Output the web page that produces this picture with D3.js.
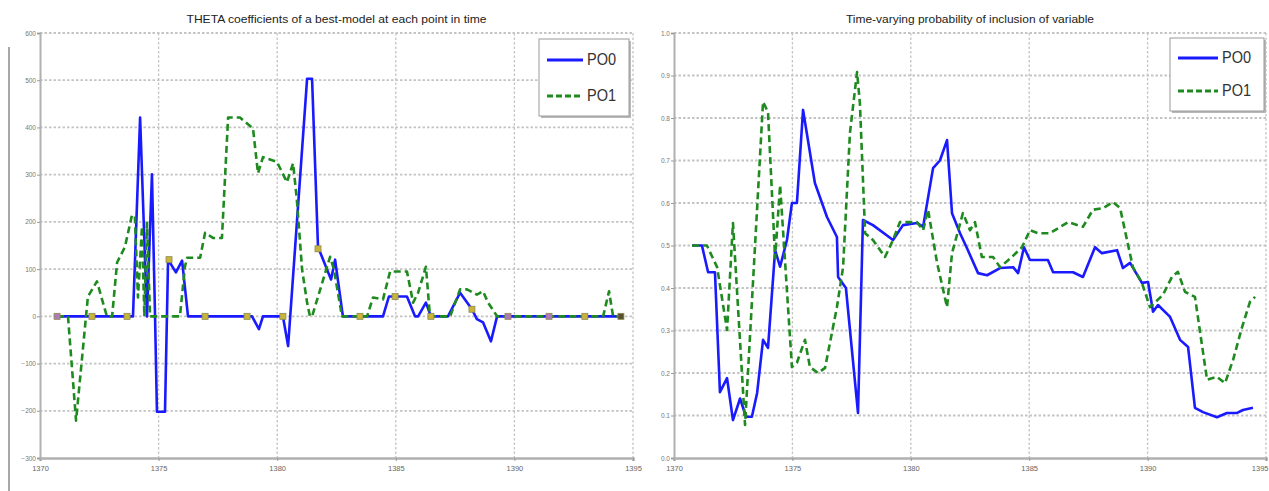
<!DOCTYPE html>
<html>
<head>
<meta charset="utf-8">
<script src="https://cdn.jsdelivr.net/npm/d3@7"></script>
<style>
  html, body { margin: 0; padding: 0; background: #fff; }
  svg { display: block; }
  text { font-family: "Liberation Sans Narrow", "Liberation Sans", Arial, sans-serif; }
</style>
</head>
<body>
<svg id="chart" width="1269" height="491"></svg>
<script>
// ---- shared axis ticks ----
const yearTicks = [1370, 1375, 1380, 1385, 1390, 1395];
const seriesNames = ["PO0", "PO1"];

// ---- left panel: THETA coefficients ----
const thetaYears0 = [1370.72, 1373.92, 1374.22, 1374.51, 1374.72, 1374.85, 1374.93, 1375.27, 1375.40, 1375.73, 1375.99, 1376.24,
  1378.94, 1379.23, 1379.40, 1380.24, 1380.46, 1381.26, 1381.47, 1381.72, 1382.27, 1382.44, 1382.77,
  1384.46, 1384.71, 1385.47, 1385.81, 1385.94, 1386.27, 1386.48, 1387.20, 1387.71, 1388.21, 1388.42, 1388.68, 1389.01, 1389.27, 1394.45];
const thetaPO0 = [0, 0, 421, 0, 301, 0, -202, -202, 120, 93, 118, 0,
  0, -27, 0, 0, -63, 503, 503, 147, 78, 120, 0,
  0, 42, 42, 0, 0, 29, 0, 0, 50, 15, -6, -13, -53, 0, 0];

const thetaYears1 = [1370.72, 1371.18, 1371.52, 1372.02, 1372.40, 1372.82, 1373.04, 1373.25, 1373.58, 1373.88, 1374.00, 1374.13, 1374.30, 1374.40, 1374.51, 1374.64,
  1375.90, 1376.11, 1376.20, 1376.75, 1376.96, 1377.29, 1377.67, 1377.93, 1378.43, 1378.98, 1379.19, 1379.40, 1379.99, 1380.41, 1380.67, 1380.83, 1381.05, 1381.26, 1381.38,
  1381.47, 1382.23, 1382.39, 1382.73, 1383.79, 1384.04, 1384.46, 1384.76, 1385.47, 1385.73, 1385.94, 1386.27, 1386.44, 1387.29, 1387.71, 1388.00, 1388.42, 1388.68, 1388.89, 1389.27,
  1393.74, 1393.99, 1394.16, 1394.45];
const thetaPO1 = [0, 0, -221, 42, 74, 0, 0, 114, 147, 215, 211, 40, 190, 0, 198, 0,
  0, 105, 124, 124, 177, 166, 166, 421, 421, 398, 303, 337, 327, 284, 324, 246, 99, 29, 0,
  0, 126, 100, 0, 0, 40, 36, 95, 95, 29, 50, 105, 0, 0, 57, 57, 46, 53, 29, 0,
  0, 53, 0, 0];

// sample markers along the PO0 path
const markerYears = [1370.72, 1372.19, 1373.67, 1375.44, 1376.96, 1378.73, 1380.24, 1381.72, 1383.49, 1384.97, 1386.48, 1388.21, 1389.73, 1391.46, 1392.97, 1394.49];
const markerValues = [0, 0, 0, 120, 0, 0, 0, 143, 0, 42, 0, 15, 0, 0, 0, 0];
const markerKinds = ["p", "o", "o", "o", "o", "o", "o", "o", "o", "o", "o", "o", "p", "p", "o", "d"];

const thetaTicks = [-300, -200, -100, 0, 100, 200, 300, 400, 500, 600];

// ---- right panel: probability of inclusion ----
const probYears0 = [1370.76, 1371.18, 1371.44, 1371.73, 1371.94, 1372.24, 1372.49, 1372.79, 1373.04, 1373.29, 1373.51, 1373.76, 1373.97,
  1374.27, 1374.48, 1374.77, 1374.98, 1375.19, 1375.45, 1375.95, 1376.46, 1376.88, 1376.93, 1377.26, 1377.77, 1377.98,
  1378.40, 1379.25, 1379.67, 1380.26, 1380.52, 1380.94, 1381.23, 1381.53, 1381.74, 1382.08, 1382.37, 1382.84, 1383.22,
  1383.77, 1384.32, 1384.53, 1384.78, 1385.03, 1385.79, 1386.01, 1386.60, 1386.85, 1387.27, 1387.78, 1388.07, 1388.71,
  1388.96, 1389.26, 1389.76, 1390.02, 1390.23, 1390.44, 1390.95, 1391.37, 1391.71, 1392.00, 1392.34, 1392.93, 1393.35,
  1393.78, 1394.03, 1394.45];
const probPO0 = [0.50, 0.50, 0.437, 0.437, 0.155, 0.188, 0.089, 0.14, 0.097, 0.097, 0.153, 0.278, 0.259,
  0.489, 0.45, 0.513, 0.60, 0.60, 0.819, 0.647, 0.567, 0.52, 0.426, 0.40, 0.106, 0.56,
  0.548, 0.513, 0.548, 0.553, 0.544, 0.682, 0.70, 0.748, 0.576, 0.529, 0.494, 0.435, 0.43,
  0.447, 0.449, 0.435, 0.496, 0.466, 0.466, 0.437, 0.437, 0.437, 0.426, 0.496, 0.482, 0.489,
  0.447, 0.459, 0.412, 0.414, 0.344, 0.36, 0.332, 0.278, 0.261, 0.118, 0.108, 0.096, 0.106,
  0.106, 0.113, 0.118];

const probYears1 = [1370.76, 1371.39, 1371.82, 1372.24, 1372.49, 1373.00, 1373.42, 1373.76, 1373.97, 1374.27, 1374.48, 1374.98,
  1375.19, 1375.53, 1375.74, 1376.08, 1376.38, 1376.88, 1377.14, 1377.43, 1377.73, 1377.85, 1378.07, 1378.40, 1378.91,
  1379.25, 1379.54, 1380.26, 1380.52, 1380.73, 1381.11, 1381.53, 1381.74, 1382.20, 1382.50, 1382.71, 1383.00, 1383.47,
  1383.77, 1384.27, 1384.70, 1385.03, 1385.37, 1385.88, 1386.64, 1387.27, 1387.69, 1388.12, 1388.54, 1388.84, 1389.13,
  1389.38, 1389.76, 1390.10, 1390.65, 1391.03, 1391.28, 1391.58, 1392.00, 1392.51, 1392.93, 1393.27, 1393.61, 1393.99,
  1394.32, 1394.54];
const probPO1 = [0.50, 0.50, 0.449, 0.301, 0.553, 0.078, 0.497, 0.838, 0.814, 0.47, 0.642, 0.214,
  0.224, 0.278, 0.214, 0.20, 0.212, 0.355, 0.449, 0.765, 0.908, 0.835, 0.529, 0.513, 0.473,
  0.513, 0.555, 0.555, 0.536, 0.584, 0.459, 0.355, 0.482, 0.576, 0.536, 0.555, 0.473, 0.473,
  0.449, 0.473, 0.496, 0.536, 0.529, 0.529, 0.555, 0.544, 0.584, 0.588, 0.602, 0.588, 0.513,
  0.449, 0.412, 0.355, 0.384, 0.426, 0.438, 0.391, 0.379, 0.184, 0.191, 0.176, 0.231, 0.308,
  0.367, 0.379];

const probTicks = [0, 0.1, 0.2, 0.3, 0.4, 0.5, 0.6, 0.7, 0.8, 0.9, 1.0];

// ---- styles ----
const BLUE = "#1a1aff";
const GREEN = "#1f8a1f";
const GRID = "#c4c4c4";

const svg = d3.select("#chart");

// thin frame line at the far left
svg.append("line").attr("x1", 9).attr("x2", 9).attr("y1", 47).attr("y2", 491)
  .attr("stroke", "#a8a8a8").attr("stroke-width", 2);

function panel(cfg) {
  const x = d3.scaleLinear().domain([1370, 1395]).range([cfg.left, cfg.right]);
  const y = d3.scaleLinear().domain(cfg.yDomain).range([cfg.bottom, cfg.top]);
  const g = svg.append("g");

  // dashed grid
  g.append("g").selectAll("line").data(yearTicks.slice(1)).join("line")
    .attr("x1", d => x(d)).attr("x2", d => x(d))
    .attr("y1", cfg.top).attr("y2", cfg.bottom)
    .attr("stroke", GRID).attr("stroke-width", 1.3).attr("stroke-dasharray", "2.5,2");
  g.append("g").selectAll("line").data(cfg.yTicks.slice(1)).join("line")
    .attr("x1", cfg.left).attr("x2", cfg.right)
    .attr("y1", d => y(d)).attr("y2", d => y(d))
    .attr("stroke", GRID).attr("stroke-width", 1.8).attr("stroke-dasharray", "2.5,2");

  // axes
  const xAxis = d3.axisBottom(x).tickValues(yearTicks).tickSize(3).tickFormat(d3.format("d"));
  const gx = g.append("g").attr("transform", `translate(0,${cfg.bottom})`).call(xAxis);
  gx.select(".domain").attr("stroke", "#b0b0b0").attr("stroke-width", 2.5);
  gx.selectAll(".tick line").attr("stroke", "#999");
  gx.selectAll(".tick text").attr("fill", "#666").attr("font-size", 7.5).attr("dy", "0.9em");
  if (cfg.lastTickEnd) {
    gx.selectAll(".tick text").filter(d => d === yearTicks[yearTicks.length - 1])
      .attr("text-anchor", "end").attr("x", 2);
  }

  const yAxis = d3.axisLeft(y).tickValues(cfg.yTicks).tickSize(3).tickFormat(cfg.fmt);
  const gy = g.append("g").attr("transform", `translate(${cfg.left},0)`).call(yAxis);
  gy.select(".domain").attr("stroke", "#b0b0b0").attr("stroke-width", 2);
  gy.selectAll(".tick line").attr("stroke", "#999");
  gy.selectAll(".tick text").attr("fill", "#777").attr("font-size", 6.5).attr("x", -4);

  // series
  const line = d3.line().x(d => x(d[0])).y(d => y(d[1]));
  g.append("path").datum(d3.zip(cfg.years0, cfg.vals0)).attr("d", line)
    .attr("fill", "none").attr("stroke", BLUE).attr("stroke-width", 2.6).attr("stroke-linejoin", "round");
  g.append("path").datum(d3.zip(cfg.years1, cfg.vals1)).attr("d", line)
    .attr("fill", "none").attr("stroke", GREEN).attr("stroke-width", 2.6)
    .attr("stroke-dasharray", "7,4").attr("stroke-linejoin", "round");

  // title
  svg.append("text").attr("x", (cfg.left + cfg.right) / 2).attr("y", 23)
    .attr("text-anchor", "middle").attr("font-size", 11).attr("fill", "#222")
    .attr("textLength", cfg.titleWidth).attr("lengthAdjust", "spacingAndGlyphs")
    .text(cfg.title);

  // legend
  const L = cfg.legend;
  g.append("rect").attr("x", L.x + 2).attr("y", L.y + 2).attr("width", L.w).attr("height", L.h)
    .attr("fill", "#b8b8b8");
  g.append("rect").attr("x", L.x).attr("y", L.y).attr("width", L.w).attr("height", L.h)
    .attr("fill", "#fff").attr("stroke", "#9a9a9a").attr("stroke-width", 1);
  seriesNames.forEach((name, i) => {
    const ly = L.y + L.row0 + i * L.rowStep;
    g.append("line").attr("x1", L.x + 8).attr("x2", L.x + L.lineW)
      .attr("y1", ly).attr("y2", ly)
      .attr("stroke", i === 0 ? BLUE : GREEN).attr("stroke-width", 3)
      .attr("stroke-dasharray", i === 0 ? null : "6,3");
    g.append("text").attr("x", L.x + L.lineW + 4).attr("y", ly + 5)
      .attr("font-size", 16).attr("fill", "#333")
      .attr("textLength", 29).attr("lengthAdjust", "spacingAndGlyphs")
      .text(name);
  });

  return { g, x, y };
}

const left = panel({
  left: 40, right: 633, top: 33, bottom: 458,
  yDomain: [-300, 600], yTicks: thetaTicks, fmt: d3.format("d"),
  years0: thetaYears0, vals0: thetaPO0, years1: thetaYears1, vals1: thetaPO1,
  title: "THETA coefficients of a best-model at each point in time", titleWidth: 300,
  legend: { x: 539, y: 39, w: 90, h: 77, row0: 21, rowStep: 36, lineW: 44 }
});

// markers on the PO0 path
const markerFill = { o: "#c9b43a", p: "#b07ab8", d: "#5a5030" };
left.g.append("g").selectAll("rect").data(d3.zip(markerYears, markerValues, markerKinds)).join("rect")
  .attr("x", d => left.x(d[0]) - 3).attr("y", d => left.y(d[1]) - 3)
  .attr("width", 6).attr("height", 6)
  .attr("fill", d => markerFill[d[2]]).attr("stroke", "#8a8a50").attr("stroke-width", 0.8);

panel({
  left: 674, right: 1266, top: 33, bottom: 458,
  yDomain: [0, 1], yTicks: probTicks, fmt: d3.format(".1f"),
  years0: probYears0, vals0: probPO0, years1: probYears1, vals1: probPO1,
  title: "Time-varying probability of inclusion of variable", titleWidth: 248,
  legend: { x: 1170, y: 38, w: 94, h: 73, row0: 20, rowStep: 33, lineW: 48 },
  lastTickEnd: true
});
</script>
</body>
</html>
